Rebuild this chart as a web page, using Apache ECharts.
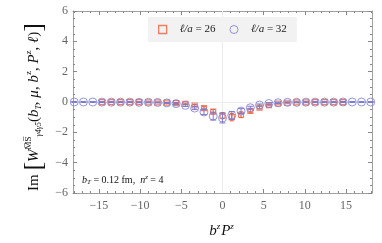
<!DOCTYPE html>
<html><head><meta charset="utf-8">
<script src="https://cdn.jsdelivr.net/npm/echarts@6/dist/echarts.min.js"></script>
<style>html,body{margin:0;padding:0;background:#fff}#c{width:382px;height:243px}</style>
</head><body><div id="c"></div>
<script>
// b^z P^z positions and Im values
const bzPz32 = [-18,-16.88,-15.75,-14.63,-13.5,-12.38,-11.25,-10.13,-9,-7.88,-6.75,-5.63,-4.5,-3.38,-2.25,-1.13,0,1.13,2.25,3.38,4.5,5.63,6.75,7.88,9,10.13,11.25,12.38,13.5,14.63,15.75,16.88,18];
const im32 = [0,0,0,-0.01,-0.01,-0.01,-0.01,-0.02,-0.02,-0.03,-0.06,-0.11,-0.22,-0.40,-0.66,-0.93,-1.06,-0.88,-0.60,-0.38,-0.20,-0.10,-0.05,-0.02,-0.02,-0.01,-0.01,-0.01,-0.01,0,0,0,0];
const err32 = [0.03,0.03,0.03,0.03,0.03,0.03,0.03,0.03,0.03,0.03,0.04,0.05,0.07,0.10,0.17,0.26,0.32,0.25,0.16,0.10,0.07,0.05,0.04,0.03,0.03,0.03,0.03,0.03,0.03,0.03,0.03,0.03,0.03];
const bzPz26 = [-14.63,-13.5,-12.38,-11.25,-10.13,-9,-7.88,-6.75,-5.63,-4.5,-3.38,-2.25,-1.13,0,1.13,2.25,3.38,4.5,5.63,6.75,7.88,9,10.13,11.25,12.38,13.5,14.63];
const im26 = [-0.01,-0.01,-0.01,-0.01,-0.01,-0.02,-0.02,-0.04,-0.07,-0.12,-0.23,-0.40,-0.64,-0.90,-1.00,-0.84,-0.58,-0.37,-0.20,-0.10,-0.05,-0.02,-0.02,-0.01,-0.01,-0.01,-0.01];
const err26 = [0.02,0.02,0.02,0.02,0.02,0.02,0.02,0.02,0.03,0.04,0.06,0.09,0.14,0.20,0.24,0.19,0.13,0.08,0.05,0.04,0.03,0.02,0.02,0.02,0.02,0.02,0.02];
const xMajorTicks = [-15,-10,-5,0,5,10,15];
const xMinorTicks = [-18,-17,-16,-14,-13,-12,-11,-9,-8,-7,-6,-4,-3,-2,-1,1,2,3,4,6,7,8,9,11,12,13,14,16,17,18];
const seriesNames = ['\u2113/a = 26', '\u2113/a = 32'];

const RED = '#e8603c', BLUE = '#7a7ad0';
const SERIF = '"Liberation Serif", "DejaVu Serif", serif';
const minus = v => String(v).replace('-', '\u2212');

function errRenderer(color, capHalf) {
  return function (params, api) {
    const x = api.value(0), y = api.value(1), e = api.value(2);
    const t = api.coord([x, y + e]), b = api.coord([x, y - e]);
    const st = { stroke: color, lineWidth: 1 };
    return { type: 'group', children: [
      { type: 'line', shape: { x1: t[0], y1: t[1], x2: b[0], y2: b[1] }, style: st },
      { type: 'line', shape: { x1: t[0] - capHalf, y1: t[1], x2: t[0] + capHalf, y2: t[1] }, style: st },
      { type: 'line', shape: { x1: b[0] - capHalf, y1: b[1], x2: b[0] + capHalf, y2: b[1] }, style: st }
    ]};
  };
}

const LINE = { show: true, onZero: false, lineStyle: { color: '#a0a0a0', width: 1 } };
const NOLINE = { show: false, onZero: false };
const xBase = { type: 'value', min: -18.15, max: 18.15, splitLine: { show: false }, gridIndex: 0 };
const chart = echarts.init(document.getElementById('c'), null, { renderer: 'canvas' });
chart.setOption({
  animation: false,
  backgroundColor: '#fff',
  grid: { left: 73, right: 10, top: 11, bottom: 50, show: false },
  xAxis: [
    Object.assign({}, xBase, { position: 'bottom', axisLine: LINE,
      axisTick: { show: true, inside: true, length: 4, customValues: xMajorTicks, lineStyle: { color: '#888' } },
      axisLabel: { show: true, customValues: xMajorTicks, formatter: minus, color: '#666', fontFamily: SERIF, fontSize: 12, margin: 7 } }),
    Object.assign({}, xBase, { position: 'bottom', axisLine: NOLINE,
      axisTick: { show: true, inside: true, length: 2, customValues: xMinorTicks, lineStyle: { color: '#888' } },
      axisLabel: { show: false } }),
    Object.assign({}, xBase, { position: 'top', axisLine: LINE,
      axisTick: { show: true, inside: true, length: 4, customValues: xMajorTicks, lineStyle: { color: '#888' } },
      axisLabel: { show: false } }),
    Object.assign({}, xBase, { position: 'top', axisLine: NOLINE,
      axisTick: { show: true, inside: true, length: 2, customValues: xMinorTicks, lineStyle: { color: '#888' } },
      axisLabel: { show: false } })
  ],
  yAxis: [
    { type: 'value', min: -6, max: 6, interval: 2, position: 'left', axisLine: LINE,
      axisTick: { show: true, inside: true, length: 4, lineStyle: { color: '#888' } },
      minorTick: { show: true, splitNumber: 4, length: 2, lineStyle: { color: '#888' } },
      splitLine: { show: false },
      axisLabel: { formatter: minus, color: '#666', fontFamily: SERIF, fontSize: 12, margin: 5 } },
    { type: 'value', min: -6, max: 6, interval: 2, position: 'right', axisLine: LINE,
      axisTick: { show: true, inside: true, length: 4, lineStyle: { color: '#888' } },
      minorTick: { show: true, splitNumber: 4, length: 2, lineStyle: { color: '#888' } },
      splitLine: { show: false },
      axisLabel: { show: false } }
  ],
  legend: {
    left: 148, top: 17, width: 150,
    backgroundColor: '#f2f2f2',
    padding: [7, 10, 7, 10],
    itemGap: 14, itemWidth: 8, itemHeight: 8,
    textStyle: { fontFamily: SERIF, fontSize: 11, color: '#222', padding: [0, 0, 0, 8],
      rich: { i: { fontStyle: 'italic', fontFamily: SERIF, fontSize: 11 }, n: { fontFamily: SERIF, fontSize: 11 } } },
    formatter: name => '{i|' + name.split(' = ')[0] + '} {n|= ' + name.split(' = ')[1] + '}',
    data: [
      { name: seriesNames[0], icon: 'rect', itemStyle: { color: 'transparent', borderColor: RED, borderWidth: 1.3 } },
      { name: seriesNames[1], icon: 'circle', itemStyle: { color: 'transparent', borderColor: BLUE, borderWidth: 1 } }
    ]
  },
  series: [
    { type: 'scatter', name: seriesNames[0], xAxisIndex: 0, yAxisIndex: 0, z: 3,
      symbol: 'rect', symbolSize: 5,
      itemStyle: { color: 'transparent', borderColor: RED, borderWidth: 1.2 },
      data: bzPz26.map((x, i) => [x, im26[i]]),
      markLine: { silent: true, symbol: 'none', label: { show: false }, z: 1,
        lineStyle: { color: '#ececec', type: 'solid', width: 1 },
        data: [{ xAxis: 0 }, { yAxis: 0 }] } },
    { type: 'custom', name: seriesNames[0] + ' err', xAxisIndex: 0, yAxisIndex: 0, z: 3,
      renderItem: errRenderer(RED, 2), encode: { x: 0, y: 1 },
      data: bzPz26.map((x, i) => [x, im26[i], err26[i]]) },
    { type: 'custom', name: seriesNames[1] + ' err', xAxisIndex: 0, yAxisIndex: 0, z: 4,
      renderItem: errRenderer(BLUE, 3), encode: { x: 0, y: 1 },
      data: bzPz32.map((x, i) => [x, im32[i], err32[i]]) },
    { type: 'scatter', name: seriesNames[1], xAxisIndex: 0, yAxisIndex: 0, z: 5,
      symbol: 'circle', symbolSize: 8,
      itemStyle: { color: 'transparent', borderColor: BLUE, borderWidth: 1 },
      data: bzPz32.map((x, i) => [x, im32[i]]) }
  ],
  graphic: [
    { type: 'text', x: 34, y: 107, rotation: Math.PI / 2,
      style: {
        text: '{n|Im }{br|[}{it|W}{sup|M\u0305S\u0305}{sub|\u03b34\u03b35}{n|(}{it|b}{sub|T}{n|, }{it|\u03bc}{n|, }{it|b}{sup|z}{n|, }{it|P}{sup|z}{n|, }{it|\u2113}{n|)}{br|]}',
        align: 'center', verticalAlign: 'middle', fill: '#111',
        rich: {
          n: { fontFamily: SERIF, fontSize: 15, fill: '#111' },
          it: { fontFamily: SERIF, fontSize: 15, fontStyle: 'italic', fill: '#111' },
          br: { fontFamily: SERIF, fontSize: 26, fill: '#111' },
          sup: { fontFamily: SERIF, fontSize: 9, fill: '#111', padding: [0, 0, 11, 0] },
          sub: { fontFamily: SERIF, fontSize: 8, fill: '#111', fontStyle: 'italic', padding: [9, 0, 0, 0] }
        }
      } },
    { type: 'text', x: 222, y: 231,
      style: {
        text: '{it|b}{sup|z}{it|P}{sup|z}', align: 'center', verticalAlign: 'middle',
        rich: {
          it: { fontFamily: SERIF, fontSize: 15, fontStyle: 'italic', fill: '#111' },
          sup: { fontFamily: SERIF, fontSize: 9, fontStyle: 'italic', fill: '#111', padding: [0, 1, 9, 0] }
        }
      } },
    { type: 'text', x: 82, y: 180,
      style: {
        text: '{it|b}{sub|T}{n| = 0.12 fm,  }{it|n}{sup|z}{n| = 4}', align: 'left', verticalAlign: 'middle',
        rich: {
          it: { fontFamily: SERIF, fontSize: 10, fontStyle: 'italic', fill: '#111' },
          n: { fontFamily: SERIF, fontSize: 10, fill: '#111' },
          sub: { fontFamily: SERIF, fontSize: 7, fontStyle: 'italic', fill: '#111', padding: [5, 0, 0, 0] },
          sup: { fontFamily: SERIF, fontSize: 7, fontStyle: 'italic', fill: '#111', padding: [0, 0, 6, 0] }
        }
      } }
  ]
});
</script></body></html>
